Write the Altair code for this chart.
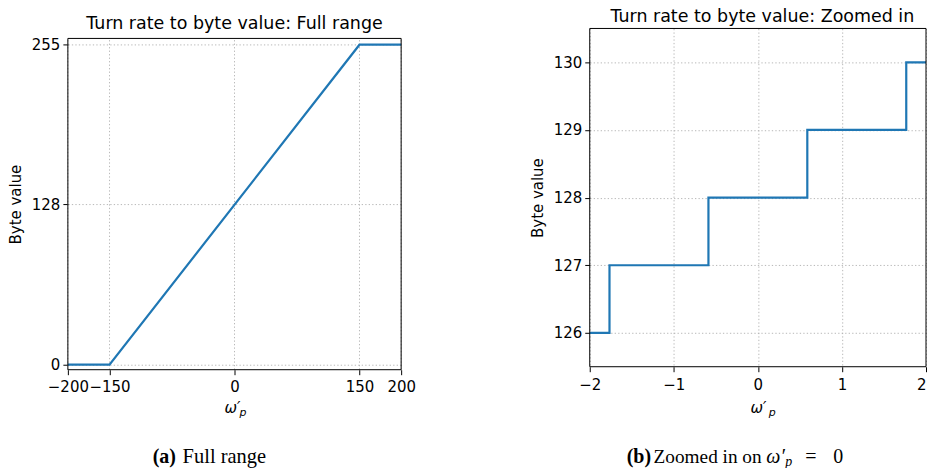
import altair as alt
import pandas as pd

# ---------------- data ----------------
full_x = [-200, -150, 150, 200]
full_y = [0, 0, 255, 255]
full_xticks = [-200, -150, 0, 150, 200]
full_yticks = [0, 128, 255]
full_xdomain = [-200, 200]
full_ydomain = [-4, 260]

zoom_x = [-2.0, -1.765, -0.588, 0.588, 1.765, 2.0]
zoom_y = [126, 127, 128, 129, 130, 130]
zoom_xticks = [-2, -1, 0, 1, 2]
zoom_yticks = [126, 127, 128, 129, 130]
zoom_xdomain = [-2, 2]
zoom_ydomain = [125.5, 130.5]

title_a = "Turn rate to byte value: Full range"
title_b = "Turn rate to byte value: Zoomed in"
ylabel = "Byte value"
xlabel_main = "ω′"
xlabel_sub = "p"
cap_a_bold = "(a)"
cap_a_text = "Full range"
cap_b_bold = "(b)"
cap_b_text = "Zoomed in on"
cap_b_math = "ω′"
cap_b_sub = "p"
cap_b_eq = "="
cap_b_zero = "0"

# ---------------- style ----------------
SANS = "DejaVu Sans"
SERIF = "Liberation Serif"
BLUE = "#1f77b4"
GRID = "#b0b0b0"
DASH = [1.3, 2.2]
TICK_FS = 15
TITLE_FS = 17.5
CAP_FS = 20

LW, LH = 334, 342   # left view (plot frame starts 10px below top)
RW, RH = 337, 339   # right view

one = pd.DataFrame({"k": [0]})


def txt(text, x, y, font=SANS, size=TICK_FS, align="left", weight="normal", style="normal"):
    return alt.Chart(one).mark_text(
        text=text, font=font, fontSize=size, align=align, baseline="alphabetic",
        fontWeight=weight, fontStyle=style, color="black"
    ).encode(x=alt.value(x), y=alt.value(y))


def frame(w, y0, y1):
    return alt.Chart(one).mark_rect(
        fillOpacity=0, stroke="black", strokeWidth=1
    ).encode(x=alt.value(0), x2=alt.value(w), y=alt.value(y0), y2=alt.value(y1))


def axis_common(pad=3, **kw):
    return alt.Axis(
        domain=False, tickSize=5, tickColor="black", tickWidth=1,
        labelFont=SANS, labelFontSize=TICK_FS, labelColor="black", labelPadding=pad,
        labelOverlap=False, labelFlush=False,
        titleFont=SANS, titleFontSize=TICK_FS, titleFontWeight="normal", titleColor="black",
        gridColor=GRID, gridDash=DASH, gridWidth=0.9, **kw
    )


# ---------------- left panel ----------------
lxs = alt.Scale(domain=full_xdomain, nice=False, zero=False)
lys = alt.Scale(domain=full_ydomain, nice=False, zero=False, range=[LH, 10])
lxa = axis_common(pad=5, values=full_xticks, title=None, grid=False)
lya = axis_common(values=full_yticks, title=ylabel, grid=True, titlePadding=8)

left_df = pd.DataFrame({"x": full_x, "y": full_y})
left_line = alt.Chart(left_df).mark_line(color=BLUE, strokeWidth=2.2).encode(
    x=alt.X("x:Q", scale=lxs, axis=lxa),
    y=alt.Y("y:Q", scale=lys, axis=lya),
)
left_grid = alt.Chart(pd.DataFrame({"x": full_xticks})).mark_rule(
    color=GRID, strokeDash=DASH, strokeWidth=0.9
).encode(
    x=alt.X("x:Q", scale=lxs, axis=lxa),
    y=alt.YDatum(full_ydomain[0], scale=lys, axis=lya),
    y2=alt.Y2Datum(full_ydomain[1]),
)
left = alt.layer(
    left_grid, left_line, frame(LW, 10, LH),
    txt(title_a, 167, 1, size=TITLE_FS, align="center"),
    txt(xlabel_main, 157, 385, style="italic"),
    txt(xlabel_sub, 172, 388, size=11, style="italic"),
    txt(cap_a_bold, 85, 435, font=SERIF, size=CAP_FS, weight="bold"),
    txt(cap_a_text, 115, 435, font=SERIF, size=20.5),
).properties(width=LW, height=LH)

# ---------------- right panel ----------------
rxs = alt.Scale(domain=zoom_xdomain, nice=False, zero=False)
rys = alt.Scale(domain=zoom_ydomain, nice=False, zero=False)
right_df = pd.DataFrame({"x": zoom_x, "y": zoom_y})
rxa = axis_common(
    pad=6, values=zoom_xticks, title=None, grid=True,
    labelAlign={"condition": {"test": "datum.value >= 2", "value": "right"}, "value": "center"},
)
right_line = alt.Chart(right_df).mark_line(
    color=BLUE, strokeWidth=2.2, interpolate="step-after"
).encode(
    x=alt.X("x:Q", scale=rxs, axis=rxa),
    y=alt.Y("y:Q", scale=rys, axis=axis_common(values=zoom_yticks, title=ylabel, grid=True, titlePadding=8)),
)
right = alt.layer(
    right_line, frame(RW, 0, RH),
    txt(title_b, 173, -6, size=TITLE_FS, align="center"),
    txt(xlabel_main, 161, 385, style="italic"),
    txt(xlabel_sub, 179.5, 388, size=11, style="italic"),
    txt(cap_b_bold, 37, 435, font=SERIF, size=CAP_FS, weight="bold"),
    txt(cap_b_text, 64, 435, font=SERIF, size=19.3),
    txt(cap_b_math, 177, 435, font=SERIF, size=CAP_FS, style="italic"),
    txt(cap_b_sub, 196, 438, font=SERIF, size=14, style="italic"),
    txt(cap_b_eq, 216, 435, font=SERIF, size=CAP_FS),
    txt(cap_b_zero, 244, 435, font=SERIF, size=CAP_FS),
).properties(width=RW, height=RH)

chart = alt.hconcat(left, right, spacing=114).properties(
    padding={"left": 0, "top": 0, "right": -1, "bottom": -1}
).configure_view(strokeWidth=0)

chart.save("out.html", embed_options={"renderer": "svg", "actions": False})
